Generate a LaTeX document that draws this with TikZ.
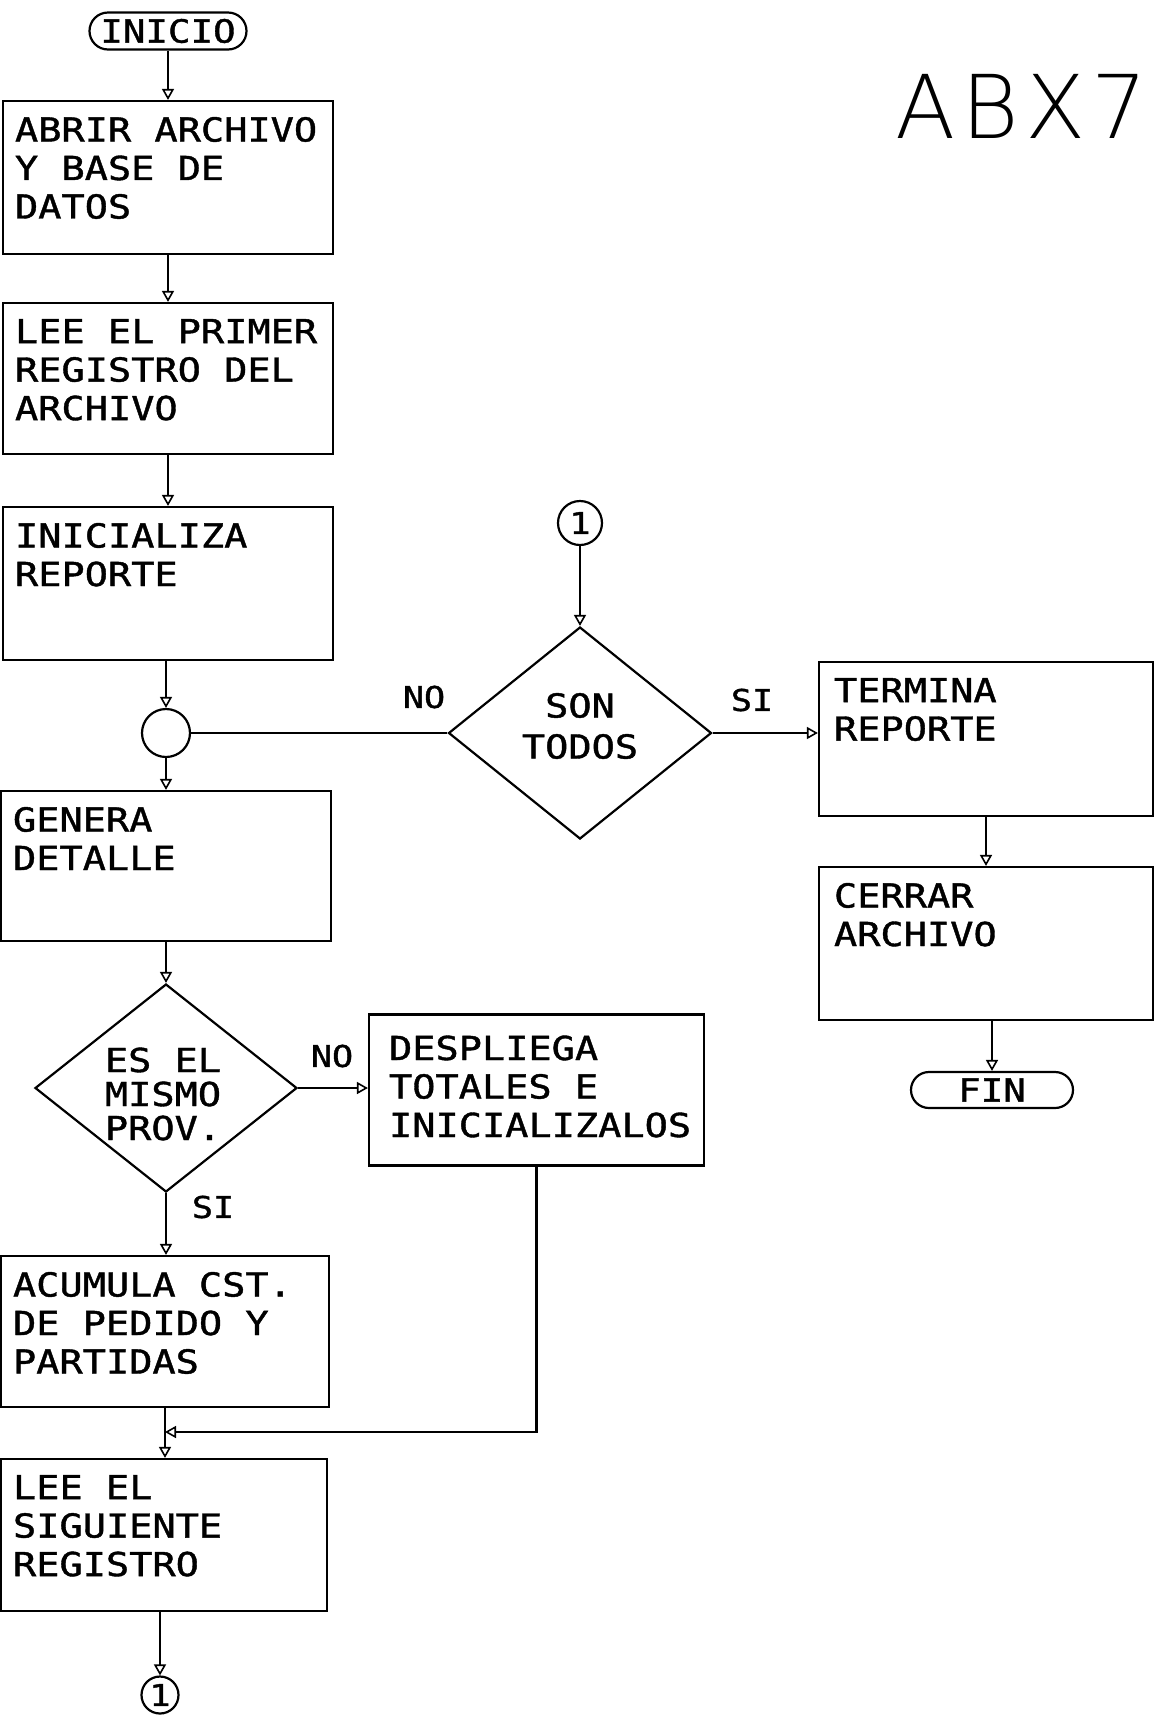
\documentclass[tikz,border=0pt]{standalone}
\usepackage{fontspec}
\newfontfamily\plotfont[FakeStretch=1.17,FakeBold=1.2]{DejaVu Sans Mono}
\newfontfamily\abxfont{DejaVu Sans ExtraLight}
\usetikzlibrary{arrows.meta,shapes.geometric,shapes.misc,calc}
\begin{document}
\begin{tikzpicture}[x=1pt,y=-1pt,line width=2.2pt,
  box/.style={draw,rectangle,inner sep=0pt},
  txt/.style={font=\plotfont\fontsize{33}{38.5}\selectfont,inner sep=0pt,align=left,anchor=north west},
  ctxt/.style={font=\plotfont\fontsize{33}{38.5}\selectfont,inner sep=0pt,align=center},
  lbl/.style={font=\plotfont\fontsize{30}{36}\selectfont,inner sep=0pt},
  termnl/.style={draw,rounded rectangle,inner sep=0pt,font=\plotfont\fontsize{32}{36}\selectfont},
  conn/.style={draw,circle,inner sep=0pt,font=\plotfont\fontsize{30}{36}\selectfont},
  dec/.style={draw,diamond,inner sep=0pt},
  arr/.style={-{Triangle[open,length=11pt,width=12pt,line width=1.6pt]}}]
\useasboundingbox (0,0) rectangle (1156,1717);

% left column
\node[termnl,minimum width=157pt,minimum height=37pt] (inicio) at (168,31) {INICIO};
\node[box,minimum width=330pt,minimum height=153pt] (b1) at (168,177.5) {};
\node[txt] (t1) at ($(b1.north west)+(12,16)$) {ABRIR ARCHIVO\\Y BASE DE\\DATOS};
\node[box,minimum width=330pt,minimum height=151pt] (b2) at (168,378.5) {};
\node[txt] (t2) at ($(b2.north west)+(12,16)$) {LEE EL PRIMER\\REGISTRO DEL\\ARCHIVO};
\node[box,minimum width=330pt,minimum height=153pt] (b3) at (168,583.5) {};
\node[txt] (t3) at ($(b3.north west)+(12,16)$) {INICIALIZA\\REPORTE};
\node[draw,circle,inner sep=0pt,minimum size=48pt] (circ) at (166,733) {};
\node[box,minimum width=330pt,minimum height=150pt] (b4) at (166,866) {};
\node[txt] (t4) at ($(b4.north west)+(12,16)$) {GENERA\\DETALLE};
\node[dec,minimum width=262pt,minimum height=208pt] (d1) at (166,1088) {};
\node[ctxt,font=\plotfont\fontsize{33}{34}\selectfont] (td1) at (163,1094) {ES EL\\MISMO\\PROV.};
\node[box,minimum width=328pt,minimum height=151pt] (b5) at (165,1331.5) {};
\node[txt] (t5) at ($(b5.north west)+(12,16)$) {ACUMULA CST.\\DE PEDIDO Y\\PARTIDAS};
\node[box,minimum width=326pt,minimum height=152pt] (b6) at (164,1535) {};
\node[txt] (t6) at ($(b6.north west)+(12,16)$) {LEE EL\\SIGUIENTE\\REGISTRO};
\node[conn,minimum size=37pt] (c1b) at (160,1695) {1};

% middle
\node[box,minimum width=335pt,minimum height=151pt] (desp) at (536.5,1090) {};
\node[txt] (tdesp) at ($(desp.north west)+(20,21)$) {DESPLIEGA\\TOTALES E\\INICIALIZALOS};
\node[conn,minimum size=44pt] (c1t) at (580,523) {1};
\node[dec,minimum width=263pt,minimum height=212pt] (d2) at (580,733) {};
\node[ctxt,font=\plotfont\fontsize{33}{41}\selectfont] (td2) at (580,726) {SON\\TODOS};

% right column
\node[box,minimum width=334pt,minimum height=154pt] (term) at (986,739) {};
\node[txt] (tterm) at ($(term.north west)+(15,16)$) {TERMINA\\REPORTE};
\node[box,minimum width=334pt,minimum height=153pt] (cerr) at (986,943.5) {};
\node[txt] (tcerr) at ($(cerr.north west)+(15,16)$) {CERRAR\\ARCHIVO};
\node[termnl,minimum width=162pt,minimum height=36pt] (fin) at (992,1090) {FIN};

% title
\node[font=\abxfont\fontsize{88}{88}\selectfont\addfontfeature{LetterSpace=7},anchor=base west,inner sep=0pt] (abx) at (894,138) {ABX7};

% labels
\node[lbl] (no1) at (424,697) {NO};
\node[lbl] (si1) at (752,700) {SI};
\node[lbl] (no2) at (332,1056) {NO};
\node[lbl] (si2) at (213,1207) {SI};

% connectors
\draw[arr] (inicio.south -| b1.north) -- (b1.north);
\draw[arr] (b1) -- (b2);
\draw[arr] (b2) -- (b3);
\draw[arr] (b3.south -| circ.north) -- (circ.north);
\draw[arr] (circ) -- (b4);
\draw[arr] (b4) -- (d1);
\draw[arr] (d1.south) -- (d1.south |- b5.north);
\draw[arr] (d1.east) -- (d1.east -| desp.west);
\coordinate (j) at (165,1432);
\draw[arr] (desp.south) |- (j);
\draw[arr] (b5.south -| j) -- (j |- b6.north);
\draw[arr] (c1b.north |- b6.south) -- (c1b.north);
\draw (d2.west) -- (circ.east);
\draw[arr] (c1t) -- (d2.north);
\draw[arr] (d2.east) -- (d2.east -| term.west);
\draw[arr] (term.south -| cerr.north) -- (cerr.north);
\draw[arr] (fin.north |- cerr.south) -- (fin.north);
\end{tikzpicture}
\end{document}
